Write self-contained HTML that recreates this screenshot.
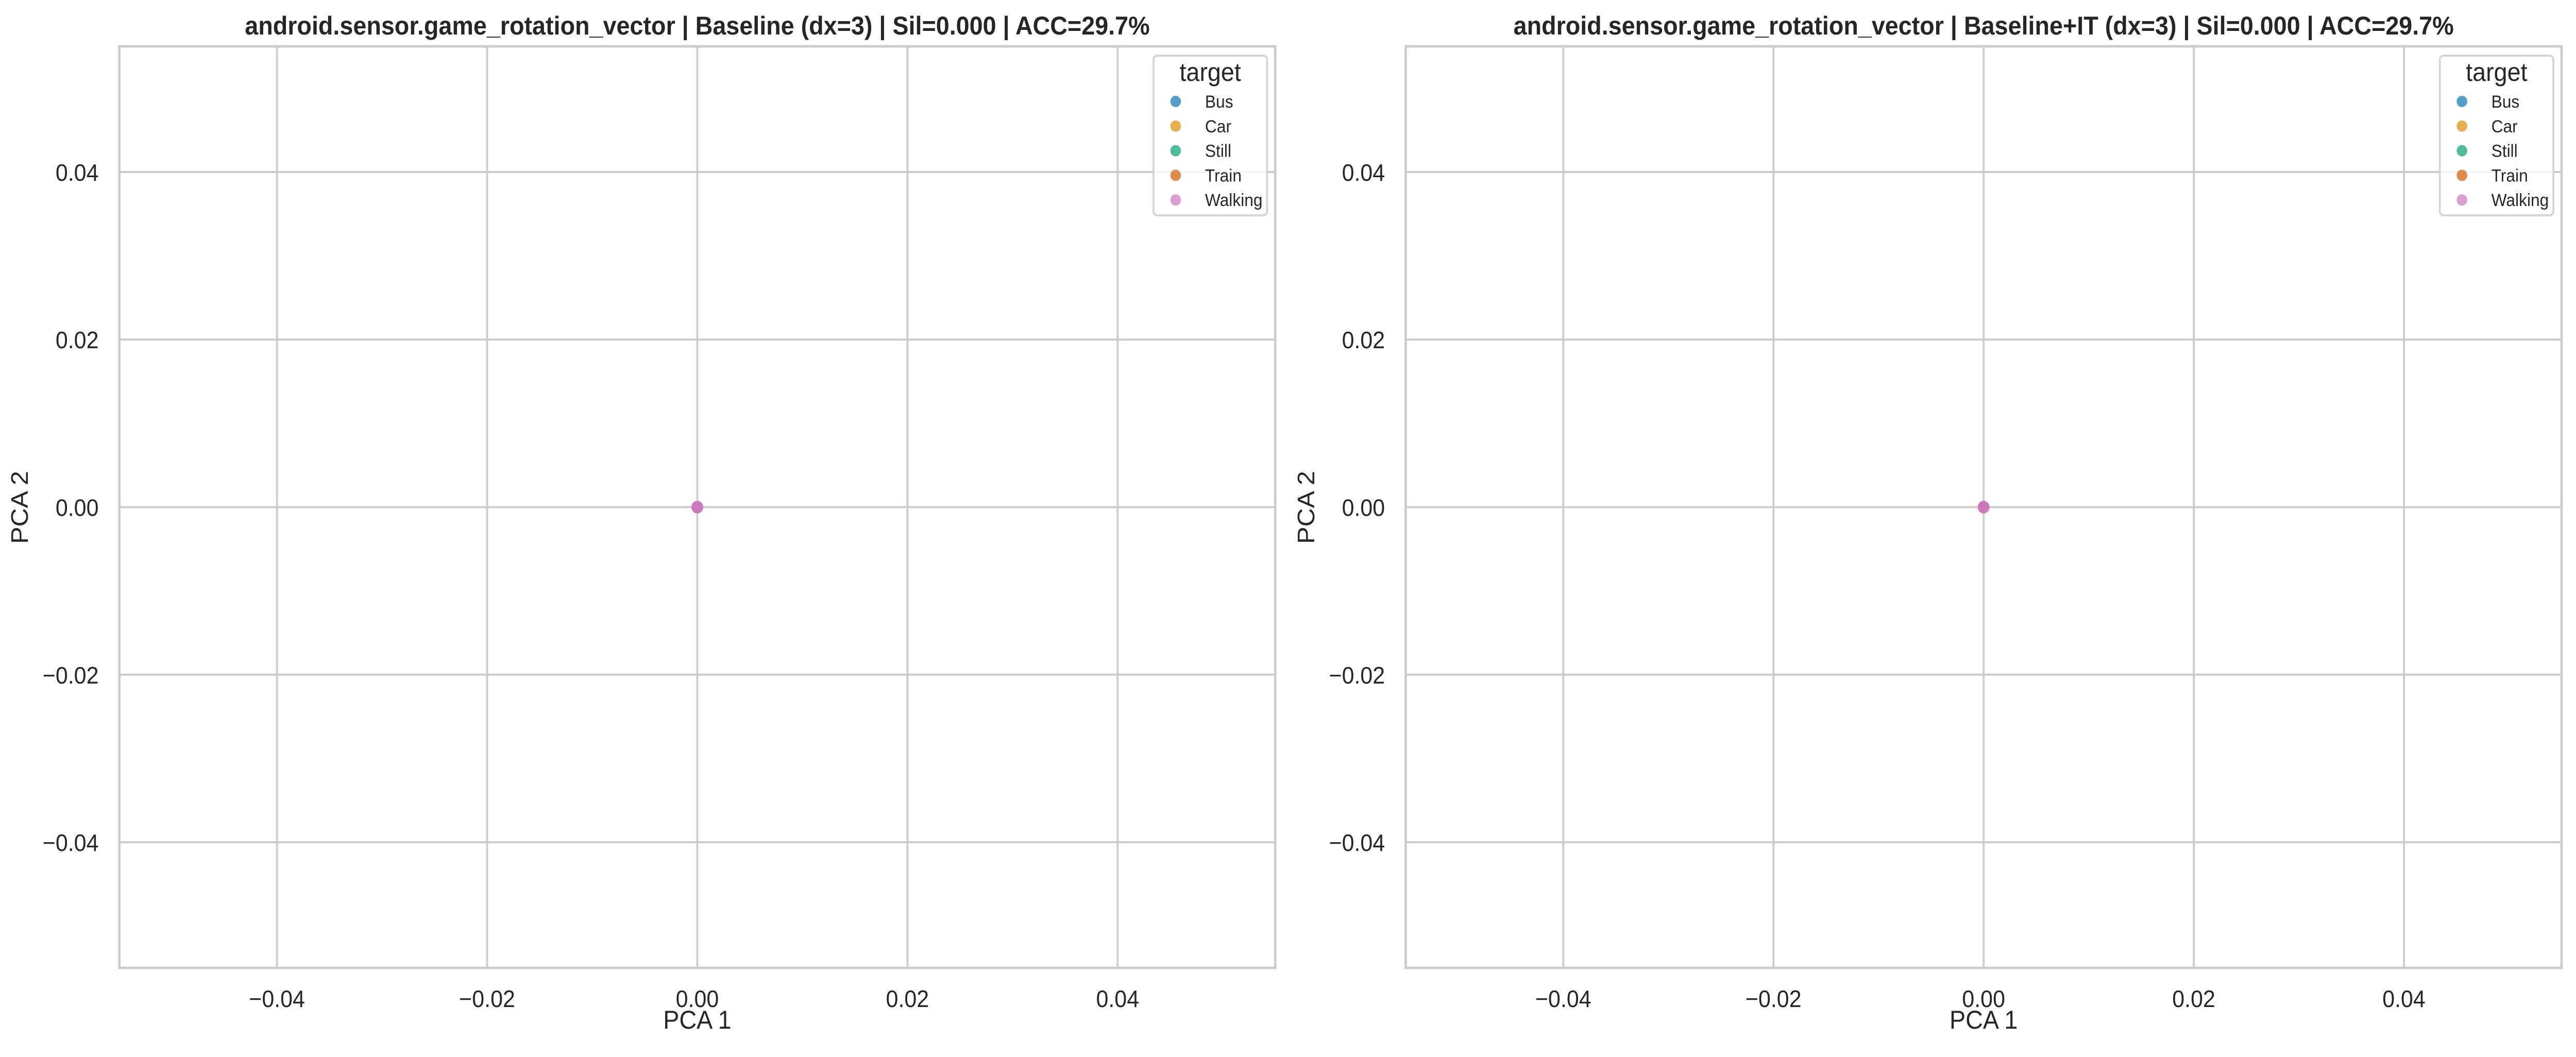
<!DOCTYPE html>
<html><head><meta charset="utf-8"><style>
html,body{margin:0;padding:0;background:#fff;overflow:hidden;width:100%;height:100%}
svg{display:block;font-family:"Liberation Sans",Arial,sans-serif;width:100vw;height:100vh}
</style></head><body>
<svg id="fig" viewBox="0 0 5353 2052" preserveAspectRatio="none" xmlns="http://www.w3.org/2000/svg"></svg>
<script>
const classes = ["Bus","Car","Still","Train","Walking"];
const classColors = ["#529fcc","#e6b04e","#4dbd9a","#e08b4b","#dc9fcf"];
const pointColors = ["#0173b2","#de8f05","#029e73","#d55e00","#cc78bc"];
const xTicks = [-0.04,-0.02,0,0.02,0.04];
const yTicks = [-0.04,-0.02,0,0.02,0.04];
const xTickLabels = ["−0.04","−0.02","0.00","0.02","0.04"];
const yTickLabels = ["−0.04","−0.02","0.00","0.02","0.04"];
const titles = ["android.sensor.game_rotation_vector | Baseline (dx=3) | Sil=0.000 | ACC=29.7%",
                "android.sensor.game_rotation_vector | Baseline+IT (dx=3) | Sil=0.000 | ACC=29.7%"];
const panelNames = ["baseline","baseline-it"];
// points per class per panel (all collapsed at origin)
const xBaseline = [[0],[0],[0],[0],[0]];
const yBaseline = [[0],[0],[0],[0],[0]];
const xBaselineIT = [[0],[0],[0],[0],[0]];
const yBaselineIT = [[0],[0],[0],[0],[0]];
const xLim = [-0.055,0.055];
const yLim = [-0.055,0.055];

const NS="http://www.w3.org/2000/svg";
const svg=document.getElementById('fig');
function mk(tag,attrs,parent){const e=document.createElementNS(NS,tag);for(const k in attrs)e.setAttribute(k,attrs[k]);(parent||svg).appendChild(e);return e;}

const panels=[{L:248,R:2650,xs:xBaseline,ys:yBaseline},{L:2921,R:5323,xs:xBaselineIT,ys:yBaselineIT}];
const T=90,B=1879;
panels.forEach((p,pi)=>{
  const g=mk('g',{});
  
  
  const sx=v=>p.L+(v-xLim[0])/(xLim[1]-xLim[0])*(p.R-p.L);
  const sy=v=>B-(v-yLim[0])/(yLim[1]-yLim[0])*(B-T);
  xTicks.forEach((t,i)=>{
    const l=mk('line',{x1:sx(t),x2:sx(t),y1:T,y2:B,stroke:'#cccccc','stroke-width':4},g);
    
    
    const tx=mk('text',{x:sx(t),y:1955,'font-size':46,fill:'#262626','text-anchor':'middle'},g);
    
    
    tx.textContent=xTickLabels[i];
  });
  yTicks.forEach((t,i)=>{
    const l=mk('line',{x1:p.L,x2:p.R,y1:sy(t),y2:sy(t),stroke:'#cccccc','stroke-width':4},g);
    
    
    const tx=mk('text',{x:p.L-43,y:sy(t)+17,'font-size':46,fill:'#262626','text-anchor':'end'},g);
    
    
    tx.textContent=yTickLabels[i];
  });
  const fr=mk('rect',{x:p.L,y:T,width:p.R-p.L,height:B-T,fill:'none',stroke:'#cccccc','stroke-width':5},g);
  
  
  classes.forEach((c,ci)=>{
    p.xs[ci].forEach((xv,k)=>{
      const d=mk('circle',{cx:sx(xv),cy:sy(p.ys[ci][k]),r:12,fill:pointColors[ci]},g);
      
      
    });
  });
  const cx=(p.L+p.R)/2;
  const ti=mk('text',{x:cx,y:67,'font-size':50,'font-weight':'bold',fill:'#262626','text-anchor':'middle'},g);
  
  
  ti.textContent=titles[pi];
  const xl=mk('text',{x:cx,y:1997,'font-size':50,fill:'#262626','text-anchor':'middle'},g);
  
  
  xl.textContent='PCA 1';
  const yl=mk('text',{x:p.L-190,y:985,'font-size':50,fill:'#262626','text-anchor':'middle',transform:'rotate(-90 '+(p.L-190)+' 985)'},g);
  
  
  yl.textContent='PCA 2';
  const lg=mk('g',{},g);
  
  
  const lx=p.R-253;
  mk('rect',{x:lx,y:108,width:236,height:310,rx:8,fill:'#ffffff','fill-opacity':0.8,stroke:'#d5d5d5','stroke-width':4},lg);
  const lt=mk('text',{x:lx+118,y:157,'font-size':50,fill:'#262626','text-anchor':'middle'},lg);
  
  
  lt.textContent='target';
  classes.forEach((c,ci)=>{
    const yy=197+ci*47.8;
    const e=mk('g',{},lg);
    
    
    mk('circle',{cx:lx+46,cy:yy,r:11,fill:classColors[ci]},e);
    const t=mk('text',{x:lx+107,y:yy+12,'font-size':34,fill:'#262626'},e);
    t.textContent=c;
  });
});
</script>
</body></html>
